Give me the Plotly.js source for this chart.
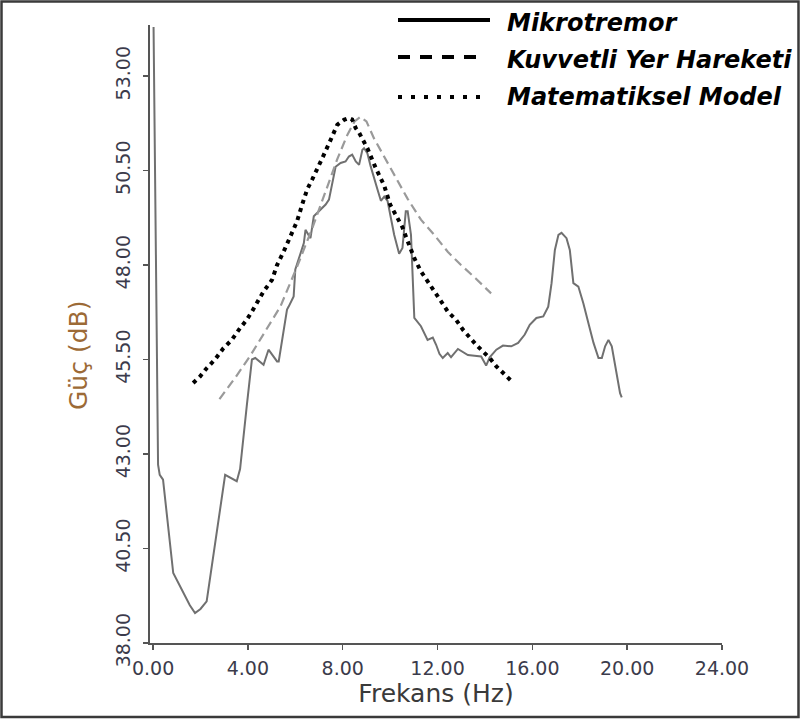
<!DOCTYPE html>
<html><head><meta charset="utf-8">
<script src="https://cdn.plot.ly/plotly-3.0.1.min.js"></script>
<style>html,body{margin:0;padding:0;background:#fff;}#chart{width:801px;height:719px;}</style>
</head><body><div id="chart"></div>
<script>
// ---- data ----
const seriesNames = ["Mikrotremor", "Kuvvetli Yer Hareketi", "Matematiksel Model"];

const mikroHz = [0.02,0.10,0.16,0.21,0.28,0.42,0.85,1.27,1.55,1.77,2.00,2.26,3.04,3.53,3.67,3.95,4.17,4.31,4.66,4.87,5.02,5.23,5.30,5.65,5.72,5.93,6.00,6.36,6.43,6.64,6.78,7.06,7.28,7.42,7.56,7.70,7.91,8.12,8.26,8.40,8.55,8.69,8.83,8.90,9.04,9.18,9.47,9.61,9.75,9.89,10.17,10.38,10.52,10.66,10.74,10.88,10.95,11.02,11.30,11.44,11.58,11.80,11.94,12.08,12.22,12.43,12.57,12.86,13.07,13.28,13.56,13.84,14.05,14.20,14.48,14.76,15.11,15.40,15.68,15.89,16.17,16.46,16.67,16.81,16.95,17.10,17.23,17.44,17.58,17.73,17.94,18.15,18.36,18.58,18.79,18.93,19.07,19.21,19.35,19.49,19.70,19.77];
const mikroDb = [54.30,50.00,45.50,42.72,42.45,42.32,39.85,39.32,39.00,38.79,38.90,39.10,42.45,42.28,42.60,44.26,45.50,45.54,45.36,45.76,45.63,45.45,45.45,46.82,46.90,47.17,47.88,48.58,48.93,48.71,49.29,49.46,49.60,49.73,50.17,50.60,50.70,50.74,50.87,50.92,50.74,50.65,51.05,51.09,50.96,50.61,49.99,49.70,49.81,49.70,48.80,48.30,48.45,49.42,49.42,48.80,47.70,46.60,46.38,46.22,46.02,46.08,45.89,45.65,45.54,45.67,45.56,45.78,45.70,45.62,45.60,45.58,45.34,45.56,45.76,45.87,45.85,45.94,46.16,46.42,46.60,46.64,46.90,47.52,48.40,48.80,48.85,48.71,48.40,47.52,47.43,46.99,46.47,45.94,45.54,45.54,45.85,46.02,45.85,45.32,44.61,44.50];

const kuvvetHz = [2.80,3.50,4.10,4.70,5.37,6.07,6.70,7.28,7.77,8.20,8.50,8.75,9.00,9.32,9.89,10.17,10.74,11.30,11.86,12.43,12.99,13.60,14.26];
const kuvvetDb = [44.45,45.05,45.60,46.20,46.90,47.95,48.95,49.95,50.80,51.45,51.80,51.92,51.80,51.35,50.70,50.40,49.75,49.20,48.80,48.35,48.00,47.65,47.25];

const modelHz = [1.69,1.98,2.26,2.61,2.97,3.32,3.67,3.95,4.17,4.66,5.02,5.23,5.51,5.86,6.07,6.29,6.50,6.71,6.92,7.14,7.49,7.77,8.05,8.26,8.40,8.55,8.69,9.04,9.39,9.75,10.00,10.24,10.52,10.66,11.02,11.30,11.58,11.86,12.15,12.43,12.78,13.07,13.35,13.63,13.92,14.20,14.48,14.76,15.10];
const modelDb = [44.88,45.05,45.27,45.50,45.80,46.02,46.33,46.55,46.77,47.30,47.61,48.00,48.36,48.89,49.15,49.60,50.00,50.26,50.57,50.83,51.31,51.71,51.84,51.89,51.85,51.62,51.50,51.09,50.57,50.10,49.60,49.30,49.00,48.76,48.18,47.83,47.57,47.35,47.04,46.77,46.55,46.29,46.07,45.89,45.71,45.54,45.32,45.14,44.94];

const xTicks = [0,4,8,12,16,20,24];
const yTicks = [38,40.5,43,45.5,48,50.5,53];
const xTitle = "Frekans (Hz)";
const yTitle = "Güç (dB)";

// ---- layout helpers (pixel -> paper) ----
const W = 801, H = 719;
const M = {l:150, r:79, t:25, b:76};
const PW = W - M.l - M.r, PH = H - M.t - M.b;
const px = x => (x - M.l) / PW;
const py = y => (H - M.b - y) / PH;

const traces = [
  {x: mikroHz, y: mikroDb, name: seriesNames[0], mode: 'lines',
   line: {color: '#707070', width: 2}},
  {x: kuvvetHz, y: kuvvetDb, name: seriesNames[1], mode: 'lines',
   line: {color: '#9a9a9a', width: 2.2, dash: '9px,5px'}},
  {x: modelHz, y: modelDb, name: seriesNames[2], mode: 'lines',
   line: {color: '#000000', width: 4, dash: '4px,4.5px'}}
];

const legFont = {family: 'DejaVu Sans', size: 24, color: '#000', weight: 'bold', style: 'italic'};
const legRows = [
  {y: 20, ty: 23, dash: 'solid'},
  {y: 57, ty: 60, dash: '12px,10px'},
  {y: 97, ty: 97, dash: '4px,9px'}
];

const shapes = [
  {type: 'rect', xref: 'paper', yref: 'paper', x0: px(1.5), x1: px(798.5), y0: py(717), y1: py(1.5),
   line: {color: '#3a3a3a', width: 2.5}, fillcolor: 'rgba(0,0,0,0)'}
];
const annotations = [
  {text: yTitle, xref: 'paper', yref: 'paper', x: px(78), y: py(356), xanchor: 'center', yanchor: 'middle',
   textangle: -90, showarrow: false, font: {family: 'DejaVu Sans', size: 25, color: '#9c6a36'}}
];
legRows.forEach((r, i) => {
  shapes.push({type: 'line', xref: 'paper', yref: 'paper', x0: px(398), x1: px(i === 0 ? 490 : 482),
    y0: py(r.y), y1: py(r.y), line: {color: '#000', width: 4, dash: r.dash}});
  annotations.push({text: seriesNames[i], xref: 'paper', yref: 'paper', x: px(505), y: py(r.ty),
    xanchor: 'left', yanchor: 'middle', showarrow: false, font: legFont});
});

const axisCommon = {
  showgrid: false, zeroline: false, showline: true, linecolor: '#555', linewidth: 2,
  ticks: 'outside', ticklen: 5, tickwidth: 1.5, tickcolor: '#555',
  tickfont: {family: 'DejaVu Sans', size: 19, color: '#3b3b4b'}, tickformat: '.2f'
};

const layout = {
  width: W, height: H, margin: M, showlegend: false,
  paper_bgcolor: '#fff', plot_bgcolor: '#fff',
  xaxis: Object.assign({}, axisCommon, {range: [-0.13, 24], tickvals: xTicks, ticklabelstandoff: 2,
    title: {text: xTitle, font: {family: 'DejaVu Sans', size: 25, color: '#3a3a3a'}, standoff: 4}}),
  yaxis: Object.assign({}, axisCommon, {range: [38, 54.35], tickvals: yTicks, tickangle: -90, ticklabelstandoff: 5}),
  shapes: shapes, annotations: annotations
};

Plotly.newPlot('chart', traces, layout, {staticPlot: true, displayModeBar: false});
</script>
</body></html>
